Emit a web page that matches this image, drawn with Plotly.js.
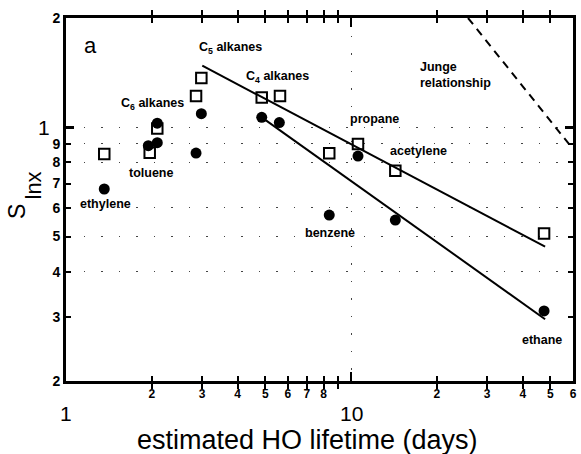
<!DOCTYPE html>
<html>
<head>
<meta charset="utf-8">
<script src="https://cdn.plot.ly/plotly-3.0.1.min.js"></script>
<style>html,body{margin:0;padding:0;background:#fff}</style>
</head>
<body>
<div id="chart" style="width:581px;height:454px"></div>
<script>
// Scaled lifetime sensitivity vs. estimated HO lifetime (log-log)

// open squares
const squareX = [1.362, 1.966, 2.09, 2.858, 2.983, 4.858, 5.63, 8.38, 10.57, 14.29, 47.5];
const squareY = [0.844, 0.851, 0.993, 1.219, 1.367, 1.207, 1.219, 0.848, 0.899, 0.759, 0.510];

// filled circles
const circleX = [1.362, 1.944, 2.09, 2.09, 2.983, 2.858, 4.858, 5.60, 10.57, 8.38, 14.29, 47.5];
const circleY = [0.676, 0.890, 0.907, 1.026, 1.090, 0.849, 1.065, 1.030, 0.833, 0.573, 0.555, 0.312];

// fitted lines
const fitUpperX = [3.006, 47.9];
const fitUpperY = [1.478, 0.469];
const fitLowerX = [4.858, 47.9];
const fitLowerY = [1.065, 0.296];

// Junge relationship
const jungeX = [25.7, 60];
const jungeY = [2.0, 0.871];

// compound labels
const labelText = ['C<sub>5</sub> alkanes', 'C<sub>4</sub> alkanes', 'C<sub>6</sub> alkanes', 'toluene', 'ethylene',
                   'propane', 'acetylene', 'benzene', 'ethane'];
const labelX = [3.78, 5.52, 2.01, 1.979, 1.381, 12.11, 17.17, 8.40, 46.6];
const labelY = [1.651, 1.378, 1.159, 0.748, 0.615, 1.054, 0.860, 0.512, 0.259];

// axis ticks
const xTickVals = [2, 3, 4, 5, 6, 7, 8, 9, 20, 30, 40, 50, 60];
const xTickText = ['2', '3', '4', '5', '6', '7', '8', ' ', '2', '3', '4', '5', '6'];
const yTickVals = [0.2, 0.3, 0.4, 0.5, 0.6, 0.7, 0.8, 0.9, 2];
const yTickText = ['2', '3', '4', '5', '6', '7', '8', '9', '2'];
const yGridVals = [0.4, 0.5, 0.6, 0.8, 0.9, 1];

const FONT = 'Liberation Sans, Arial, Helvetica, sans-serif';
const xRange = [0, Math.log10(60)];
const yRange = [Math.log10(0.2), Math.log10(2)];
const lg = Math.log10;

const traces = [
  // empty traces so the overlay axes (decade ticks, dotted grid) get drawn
  {x: [], y: [], xaxis: 'x2', yaxis: 'y2', mode: 'markers', hoverinfo: 'skip'},
  {x: [], y: [], xaxis: 'x', yaxis: 'y3', mode: 'markers', hoverinfo: 'skip'},
  {x: fitUpperX, y: fitUpperY, mode: 'lines', line: {color: '#000', width: 2}, hoverinfo: 'skip'},
  {x: fitLowerX, y: fitLowerY, mode: 'lines', line: {color: '#000', width: 2}, hoverinfo: 'skip'},
  {x: jungeX, y: jungeY, mode: 'lines', line: {color: '#000', width: 2, dash: '8px,6px'}, hoverinfo: 'skip'},
  {x: squareX, y: squareY, mode: 'markers',
   marker: {symbol: 'square-open', size: 10.5, color: '#000', line: {width: 2, color: '#000'}}},
  {x: circleX, y: circleY, mode: 'markers',
   marker: {symbol: 'circle', size: 11, color: '#000'}}
];

const annotations = [];
labelText.forEach((t, i) => {
  annotations.push({x: lg(labelX[i]), y: lg(labelY[i]), xref: 'x', yref: 'y', text: t,
    showarrow: false, xanchor: 'center', yanchor: 'middle',
    font: {family: FONT, size: 12.5, color: '#000', weight: 'bold'}});
});
annotations.push({x: lg(17.17), y: lg(1.393), xref: 'x', yref: 'y', text: 'Junge<br>relationship',
  showarrow: false, xanchor: 'left', yanchor: 'middle', align: 'left',
  font: {family: FONT, size: 12.5, color: '#000', weight: 'bold'}});
// panel letter
annotations.push({x: lg(1.214), y: lg(1.685), xref: 'x', yref: 'y', text: 'a', showarrow: false,
  font: {family: FONT, size: 22, color: '#000'}});
// decade labels
annotations.push({x: 0, y: 0, xref: 'x', yref: 'paper', yshift: -32, text: '1', showarrow: false,
  yanchor: 'middle', font: {family: FONT, size: 21, color: '#000'}});
annotations.push({x: 1, y: 0, xref: 'x', yref: 'paper', yshift: -32, text: '10', showarrow: false,
  yanchor: 'middle', font: {family: FONT, size: 21, color: '#000'}});
annotations.push({x: 0, y: 0, xref: 'paper', yref: 'y', xshift: -14, text: '1', showarrow: false,
  xanchor: 'right', yanchor: 'middle', font: {family: FONT, size: 21, color: '#000'}});
// axis titles
annotations.push({x: 0.477, y: 0, xref: 'paper', yref: 'paper', yshift: -59, text: 'estimated HO lifetime (days)',
  showarrow: false, xanchor: 'center', yanchor: 'middle', font: {family: FONT, size: 27, color: '#000'}});
annotations.push({x: 0, y: 0.5, xref: 'paper', yref: 'paper', xshift: -49, yshift: -12.5, text: 'S',
  textangle: -90, showarrow: false, xanchor: 'center', yanchor: 'middle', font: {family: FONT, size: 23, color: '#000'}});
annotations.push({x: 0, y: 0.5, xref: 'paper', yref: 'paper', xshift: -33.5, yshift: 13.5, text: 'lnx',
  textangle: -90, showarrow: false, xanchor: 'center', yanchor: 'middle', font: {family: FONT, size: 22, color: '#000'}});

const tickFont = {family: FONT, size: 12, color: '#000', weight: 'bold'};
const gridStyle = {showgrid: true, gridcolor: '#444', gridwidth: 1.2, griddash: '1.5px,16px'};

const layout = {
  width: 581, height: 454,
  margin: {l: 66, r: 8, t: 18, b: 73},
  paper_bgcolor: '#fff', plot_bgcolor: '#fff',
  showlegend: false,
  xaxis: {
    type: 'log', range: xRange, tickmode: 'array', tickvals: xTickVals, ticktext: xTickText,
    ticks: 'inside', ticklen: 5, tickwidth: 2, tickcolor: '#000', tickfont: tickFont,
    showline: true, linewidth: 3, linecolor: '#000', mirror: 'allticks',
    showgrid: false, zeroline: false, fixedrange: true
  },
  xaxis2: Object.assign({
    type: 'log', range: xRange, overlaying: 'x', anchor: 'y2', tickmode: 'array', tickvals: [10],
    ticks: 'inside', ticklen: 9, tickwidth: 2.5, tickcolor: '#000', showticklabels: false, mirror: 'ticks',
    showline: false, zeroline: false
  }, gridStyle),
  yaxis: {
    type: 'log', range: yRange, tickmode: 'array', tickvals: yTickVals, ticktext: yTickText,
    ticks: 'inside', ticklen: 5, tickwidth: 2, tickcolor: '#000',
    tickfont: {family: FONT, size: 14, color: '#000', weight: 'bold'},
    showline: true, linewidth: 3, linecolor: '#000', mirror: 'allticks',
    showgrid: false, zeroline: false, fixedrange: true
  },
  yaxis2: Object.assign({
    type: 'log', range: yRange, overlaying: 'y', anchor: 'x2', tickmode: 'array', tickvals: yGridVals,
    ticks: '', showticklabels: false, showline: false, zeroline: false
  }, gridStyle),
  yaxis3: {
    type: 'log', range: yRange, overlaying: 'y', anchor: 'x', tickmode: 'array', tickvals: [1],
    ticks: 'inside', ticklen: 8, tickwidth: 2.5, tickcolor: '#000', showticklabels: false, mirror: 'ticks',
    showline: false, showgrid: false, zeroline: false
  },
  annotations: annotations
};

Plotly.newPlot('chart', traces, layout, {staticPlot: true, displayModeBar: false});
</script>
</body>
</html>
